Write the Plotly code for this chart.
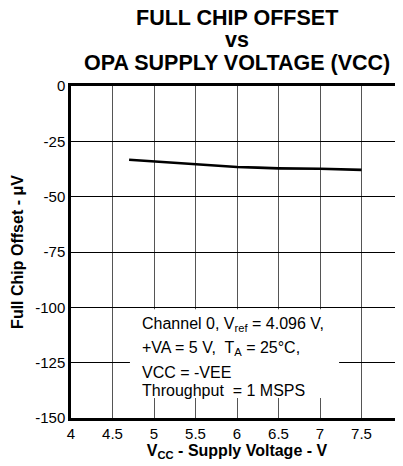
import plotly.graph_objects as go

vcc = [4.7, 5.0, 5.5, 6.0, 6.25, 6.5, 7.0, 7.5]
offset_uv = [-33.3, -34.1, -35.4, -36.6, -36.9, -37.2, -37.4, -37.9]

x_ticks = [4, 4.5, 5, 5.5, 6, 6.5, 7, 7.5, 8]
x_tick_labels = ["4", "4.5", "5", "5.5", "6", "6.5", "7", "7.5", "8"]
y_ticks = [0, -25, -50, -75, -100, -125, -150]
y_tick_labels = ["0", "-25", "-50", "-75", "-100", "-125", "-150"]

title_lines = ["FULL CHIP OFFSET", "vs", "OPA SUPPLY VOLTAGE (VCC)"]
note_lines = [
    "Channel 0, V<sub>ref</sub> = 4.096 V,",
    "+VA = 5 V,  T<sub>A</sub> = 25°C,",
    "VCC = -VEE",
    "Throughput  = 1 MSPS",
]

FONT = "Liberation Sans, Arial, sans-serif"
# page body has an 8px margin, so the figure is sized/offset to compensate
W, H = 403, 458
ML, MR, MT, MB = 63, 8, 78, 48

fig = go.Figure()
fig.add_trace(go.Scatter(x=vcc, y=offset_uv, mode="lines",
                         line=dict(color="black", width=2.6), showlegend=False))

fig.update_layout(
    width=W, height=H,
    margin=dict(l=ML, r=MR, t=MT, b=MB, autoexpand=False),
    paper_bgcolor="white", plot_bgcolor="white",
    font=dict(family=FONT, color="black", size=15),
)
fig.update_xaxes(
    range=[4, 8], tickvals=x_ticks, ticktext=x_tick_labels,
    showgrid=True, gridcolor="#555555", gridwidth=1,
    showline=True, linecolor="black", linewidth=2.5, mirror=True,
    ticks="", zeroline=False, tickfont=dict(size=15), automargin=False,
    title=dict(text="<b>V<sub>CC</sub> - Supply Voltage - V</b>",
               font=dict(size=16), standoff=0),
)
fig.update_yaxes(
    range=[-150, 0], tickvals=y_ticks, ticktext=y_tick_labels,
    showgrid=True, gridcolor="black", gridwidth=1,
    showline=True, linecolor="black", linewidth=2.5, mirror=True,
    ticks="", zeroline=False, tickfont=dict(size=15), automargin=False,
    title=dict(text="<b>Full Chip Offset - μV</b>", font=dict(size=16), standoff=8),
)

# title lines as separate annotations (tight line spacing)
title_y_px = [10, 32, 55]
for txt, ypx in zip(title_lines, title_y_px):
    fig.add_annotation(text=f"<b>{txt}</b>", xref="paper", yref="paper",
                       x=0.5, y=1 + (MT - ypx) / (H - MT - MB),
                       xanchor="center", yanchor="middle", showarrow=False,
                       font=dict(size=21.5, family=FONT))

# white note box
fig.add_shape(type="rect", x0=4.71, x1=7.23, y0=-141, y1=-100.9,
              fillcolor="white", line=dict(width=0), layer="between")
note_y = [-107.8, -118.4, -129.4, -137.4]
for txt, yv in zip(note_lines, note_y):
    fig.add_annotation(text=txt, x=4.83, y=yv, xanchor="left", yanchor="middle",
                       showarrow=False, font=dict(size=16, family=FONT))

fig.write_html("out.html")
